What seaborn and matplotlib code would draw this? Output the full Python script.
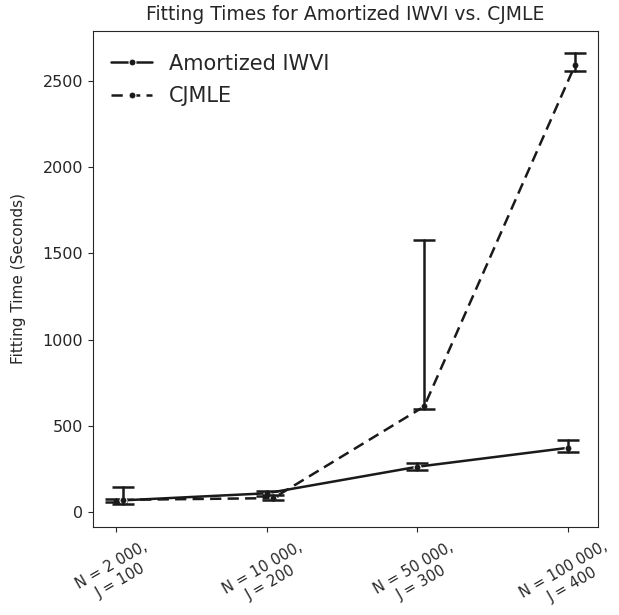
import numpy as np
import pandas as pd
import matplotlib
matplotlib.use("Agg")
import matplotlib.pyplot as plt
import seaborn as sns

# settings on the x axis
settings = ["N = 2 000,\nJ = 100", "N = 10 000,\nJ = 200",
            "N = 50 000,\nJ = 300", "N = 100 000,\nJ = 400"]
methods = ["Amortized IWVI", "CJMLE"]

# fitting times (seconds): point estimate and interval ends
iwvi_mid = [65, 108, 262, 372]
iwvi_lo = [58, 92, 246, 345]
iwvi_hi = [74, 124, 281, 416]

cjmle_mid = [70, 80, 612, 2592]
cjmle_lo = [43, 70, 600, 2559]
cjmle_hi = [143, 98, 1576, 2661]

# small horizontal shift so the two series do not overlap
offsets = {"Amortized IWVI": 0.0, "CJMLE": 0.045}

rows = []
for method, lo, mid, hi in [("Amortized IWVI", iwvi_lo, iwvi_mid, iwvi_hi),
                            ("CJMLE", cjmle_lo, cjmle_mid, cjmle_hi)]:
    for i in range(len(settings)):
        for v in (lo[i], mid[i], hi[i]):
            rows.append({"x": i + offsets[method], "time": v, "method": method})
df = pd.DataFrame(rows)

sns.set_style("ticks")
plt.rcParams["font.family"] = ["DejaVu Sans"]

fig, ax = plt.subplots(figsize=(6.19, 6.15), dpi=100)
fig.subplots_adjust(left=0.150, right=0.966, top=0.950, bottom=0.143)

sns.lineplot(
    data=df, x="x", y="time", style="method", style_order=methods,
    estimator="median", errorbar=lambda v: (v.min(), v.max()),
    err_style="bars", err_kws={"capsize": 8, "elinewidth": 1.8, "capthick": 1.8},
    markers={"Amortized IWVI": "o", "CJMLE": "o"},
    dashes={"Amortized IWVI": "", "CJMLE": (4.5, 2.5)},
    color="#1a1a1a", linewidth=1.8, markersize=5, ax=ax,
)

ax.set_xticks(range(len(settings)))
ax.set_xticklabels(settings, rotation=30, ha="center", multialignment="center",
                   fontsize=10.6)
ax.tick_params(axis="x", pad=5)
ax.tick_params(axis="y", labelsize=11.5)
ax.set_yticks([0, 500, 1000, 1500, 2000, 2500])
ax.set_xlabel("")
ax.set_ylabel("Fitting Time (Seconds)", fontsize=11, labelpad=12)
ax.set_title("Fitting Times for Amortized IWVI vs. CJMLE", fontsize=13.5, pad=8)

leg = ax.legend(loc="upper left", bbox_to_anchor=(-0.01, 1.0), frameon=False,
                fontsize=15, handlelength=2.0, labelspacing=0.6, borderaxespad=0.7)
for h in leg.legend_handles:
    h.set_color("#1a1a1a")

fig.savefig("out.png", dpi=100)
